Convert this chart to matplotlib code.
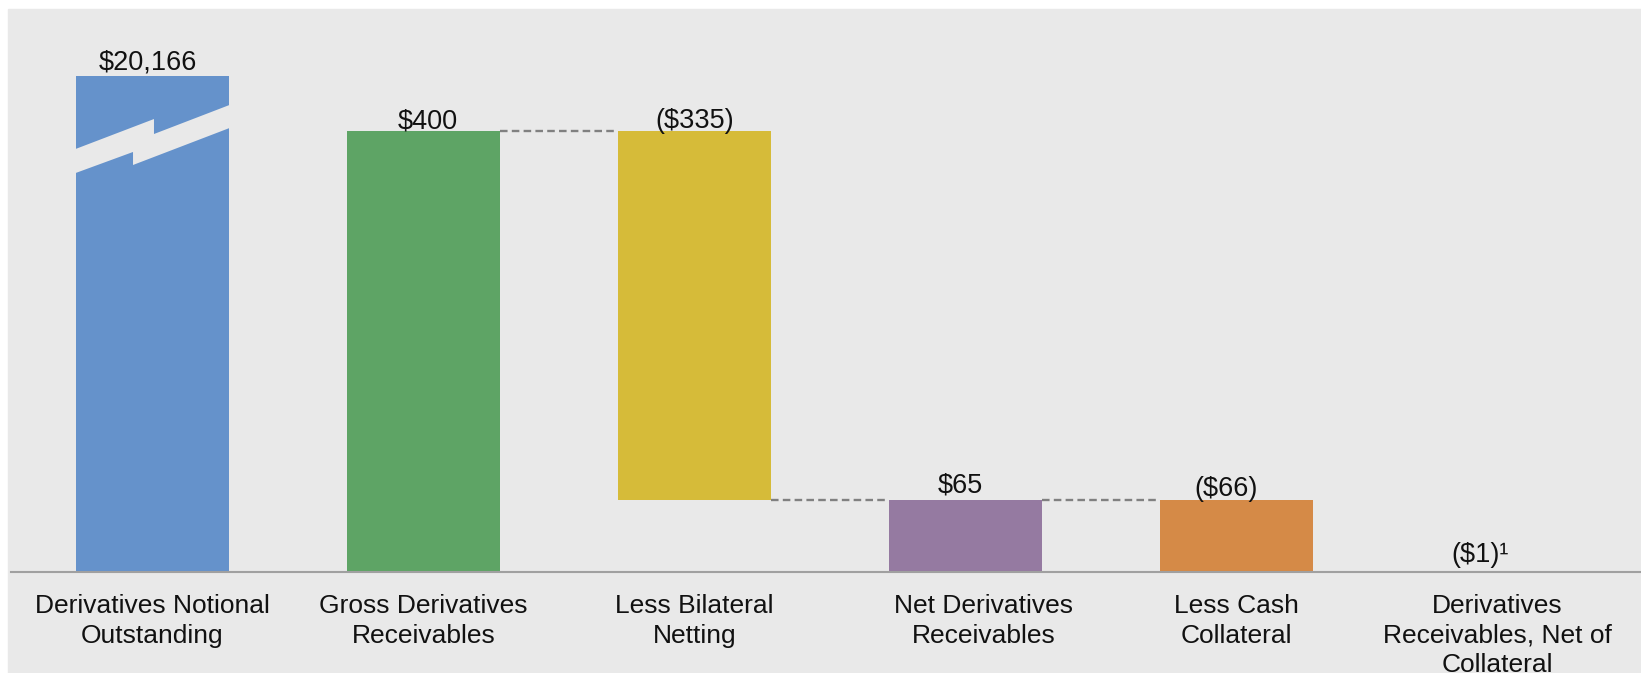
import matplotlib.pyplot as plt
from matplotlib.patches import Rectangle, Polygon
from matplotlib.transforms import ScaledTranslation

"""
Waterfall of derivatives receivables, from notional down to net of collateral
"""

# Chart data ($ billions)
categories = ['Derivatives Notional\nOutstanding', 'Gross Derivatives\nReceivables',
              'Less Bilateral\nNetting', 'Net Derivatives\nReceivables',
              'Less Cash\nCollateral', 'Derivatives\nReceivables, Net of\nCollateral']
notional = 20166
gross = 400
bilateral_netting = -335
cash_collateral = -66
value_labels = ['$20,166', '$400', '($335)', '$65', '($66)', '($1)\u00b9']

# Derived waterfall levels
net = gross + bilateral_netting
net_of_collateral = net + cash_collateral

# Styling
bg = '#e9e9e9'
colors = ['#6592cb', '#5ea465', '#d6bb39', '#957aa1', '#d58a47', '#9a9a9a']
bar_w = 0.565
notional_shown = 450          # notional bar is drawn broken, at this height
font = ['Liberation Sans', 'DejaVu Sans']
plt.rcParams['font.family'] = font

fig = plt.figure(figsize=(16.41, 6.73), dpi=100)
fig.patch.set_facecolor('white')
fig.add_artist(Rectangle((8 / 1641, 0), 1, (673 - 9) / 673,
                         transform=fig.transFigure, color=bg, zorder=0))

ax = fig.add_axes([11 / 1641, 101 / 673, 1 - 11 / 1641, (572 - 9) / 673])
ax.set_facecolor('none')

x = list(range(len(categories)))
bottoms = [0, 0, net, 0, net_of_collateral, 0]
heights = [notional_shown, gross, -bilateral_netting, net,
           net - net_of_collateral, net_of_collateral]

ax.bar(x, heights, bottom=bottoms, width=bar_w, color=colors, zorder=2)

# break mark on the notional bar (lightning-shaped gap)
x0 = x[0] - bar_w / 2
brk = [(-0.01, 383.3), (0.51, 410.9), (0.51, 397.3), (1.01, 424.0),
       (1.01, 403.1), (0.373, 369.2), (0.373, 381.0), (-0.01, 361.5)]
ax.add_patch(Polygon([(x0 + fx * bar_w, y) for fx, y in brk], closed=True,
                     facecolor=bg, edgecolor='none', zorder=3))

# dashed connectors between steps
connectors = [(1, 2, gross), (2, 3, net), (3, 4, net)]
for a, b, level in connectors:
    ax.plot([x[a] + bar_w / 2, x[b] - bar_w / 2], [level, level],
            color='#808080', lw=1.7, dashes=(3.2, 1.8), zorder=4)

# value labels
tops = [notional_shown, gross, gross, net, net, 0]
label_dx = [-5, 4, 0, -5, -10, -27]   # pixels
label_dy = [6, 3, 3, 8, 4, 10]
for i, txt in enumerate(value_labels):
    ax.annotate(txt, (x[i], tops[i]), xytext=(label_dx[i] * 0.72, label_dy[i] * 0.72),
                textcoords='offset points', ha='center', va='baseline',
                fontsize=19.5, color='#111111', zorder=5)

ax.set_xlim(-0.522, 5.493)
ax.set_ylim(0, 510.7)
ax.set_xticks(x)
ax.set_xticklabels(categories, fontsize=19, color='#111111', linespacing=1.28)
ax.tick_params(axis='x', length=0, pad=16)
ax.set_yticks([])
for side in ['top', 'left', 'right']:
    ax.spines[side].set_visible(False)
ax.spines['bottom'].set_color('#a0a0a0')
ax.spines['bottom'].set_linewidth(1.5)
ax.spines['bottom'].set_zorder(6)

tick_dx = [0, 0, 0, 18, 0, -10]
for lab, dx in zip(ax.get_xticklabels(), tick_dx):
    lab.set_transform(lab.get_transform() + ScaledTranslation(dx / 100, 0, fig.dpi_scale_trans))

fig.savefig('out.png', dpi=100, facecolor=fig.get_facecolor())
